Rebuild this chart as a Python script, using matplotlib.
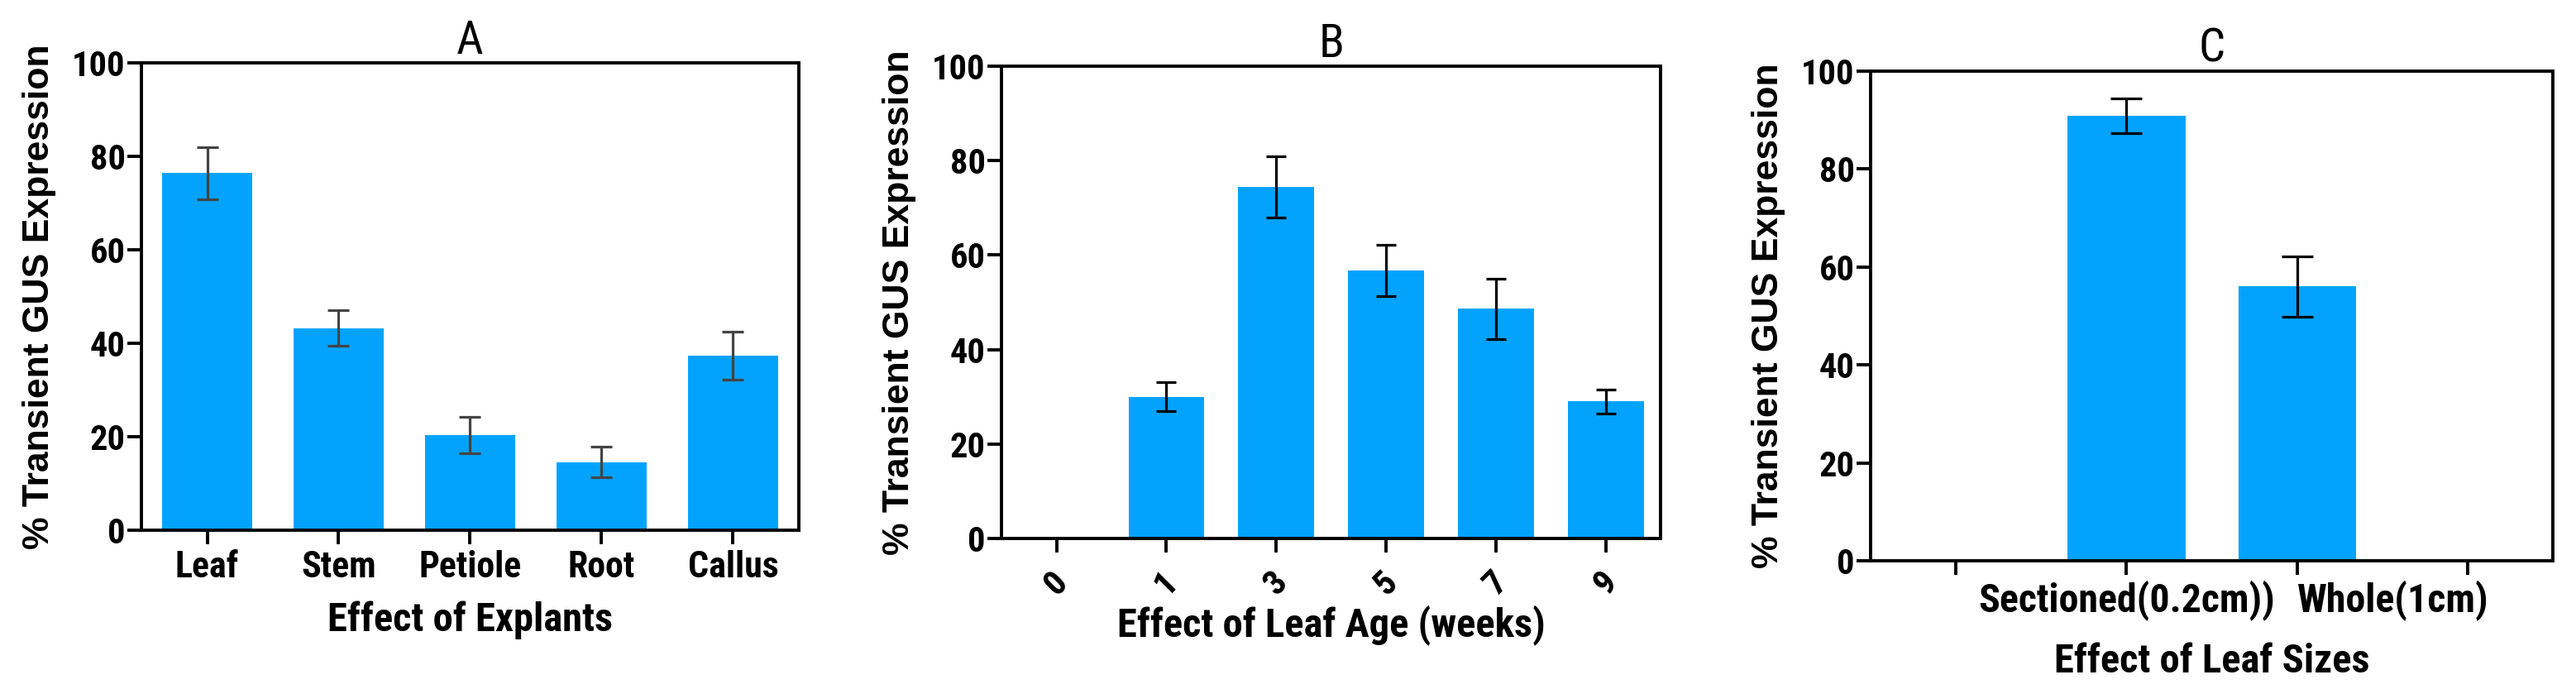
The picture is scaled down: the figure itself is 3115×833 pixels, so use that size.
import numpy as np
import matplotlib
matplotlib.use("Agg")
import matplotlib.pyplot as plt
from matplotlib import font_manager

# data
explants = ["Leaf", "Stem", "Petiole", "Root", "Callus"]
explant_mean = [76.4, 43.2, 20.4, 14.6, 37.3]
explant_err = [5.6, 3.8, 3.9, 3.2, 5.1]

leaf_age = ["0", "1", "3", "5", "7", "9"]
age_mean = [0.0, 30.0, 74.4, 56.7, 48.6, 29.0]
age_err = [0.0, 3.1, 6.5, 5.4, 6.4, 2.5]

leaf_size = ["", "Sectioned(0.2cm))", "Whole(1cm)", ""]
size_mean = [0.0, 90.9, 56.0, 0.0]
size_err = [0.0, 3.5, 6.2, 0.0]

yticks = [0, 20, 40, 60, 80, 100]

BAR = "#03A3FD"
WIDE = ["Liberation Sans", "DejaVu Sans"]

# a narrow bold face for ticks and x labels, if one is installed
bold_names = {f.name for f in font_manager.fontManager.ttflist
              if f.weight in (700, "bold")}
NARROW = None
for cand in ["Liberation Sans Narrow", "Arial Narrow", "Roboto Condensed",
             "Archivo Narrow", "Pragati Narrow"]:
  if cand in bold_names:
    NARROW = [cand, "DejaVu Sans"]
    break
k = 1.13
if NARROW is None:
  NARROW = WIDE
  k = 1.0

fig = plt.figure(figsize=(31.15, 8.33), dpi=100)

panels = [
  # rect, title, cats, means, errs, error colour, capsize, xlabel
  ([0.0549, 0.2305, 0.2552, 0.6783], "A", explants, explant_mean, explant_err,
   "#444444", 9.5, "Effect of Explants"),
  ([0.3888, 0.2185, 0.2559, 0.6855], "B", leaf_age, age_mean, age_err,
   "black", 8.5, "Effect of Leaf Age (weeks)"),
  ([0.7262, 0.1861, 0.2648, 0.7107], "C", leaf_size, size_mean, size_err,
   "black", 13.5, "Effect of Leaf Sizes"),
]

for rect, title, cats, means, errs, ecol, cap, xlab in panels:
  ax = fig.add_axes(rect)
  x = np.arange(len(cats))
  means = np.array(means)
  errs = np.array(errs)

  ax.bar(x, means, width=0.69, color=BAR, linewidth=0, zorder=2)

  # only draw error bars where there is a bar
  keep = errs > 0
  ax.errorbar(x[keep], means[keep], yerr=errs[keep], fmt="none",
              ecolor=ecol, elinewidth=2.3, capsize=cap, capthick=2.3, zorder=3)

  ax.set_xlim(-0.5, len(cats) - 0.5)
  ax.set_ylim(0, 100)
  ax.set_yticks(yticks)
  ax.set_xticks(x)

  for sp in ax.spines.values():
    sp.set_linewidth(2.8)

  ax.tick_params(axis="both", direction="out", length=12, width=2.8)
  ax.tick_params(axis="y", pad=2)
  ax.tick_params(axis="x", pad=5)

  ax.set_yticklabels([str(v) for v in yticks],
                     family=NARROW, fontweight="bold", fontsize=27 * k)

  if title == "B":
    ax.set_xticklabels(cats, family=NARROW, fontweight="bold",
                       fontsize=27 * k, rotation=45, ha="center", va="top")
    ax.tick_params(axis="x", pad=11)
    lpad = 3
  elif title == "C":
    labels = ax.set_xticklabels(cats, family=NARROW, fontweight="bold",
                                fontsize=30.5 * k)
    # second label starts at its tick, as in the reference
    labels[2].set_horizontalalignment("left")
    lpad = 19
  else:
    ax.set_xticklabels(cats, family=NARROW, fontweight="bold",
                       fontsize=28 * k)
    lpad = 14

  ax.set_title(title, family=NARROW, fontsize=36 * k, pad=8)
  ax.set_xlabel(xlab, family=NARROW, fontweight="bold", fontsize=31 * k,
                labelpad=lpad)
  ax.set_ylabel("% Transient GUS Expression", family=WIDE, fontweight="bold",
                fontsize=32, labelpad=14)

fig.savefig("out.png", dpi=100)
